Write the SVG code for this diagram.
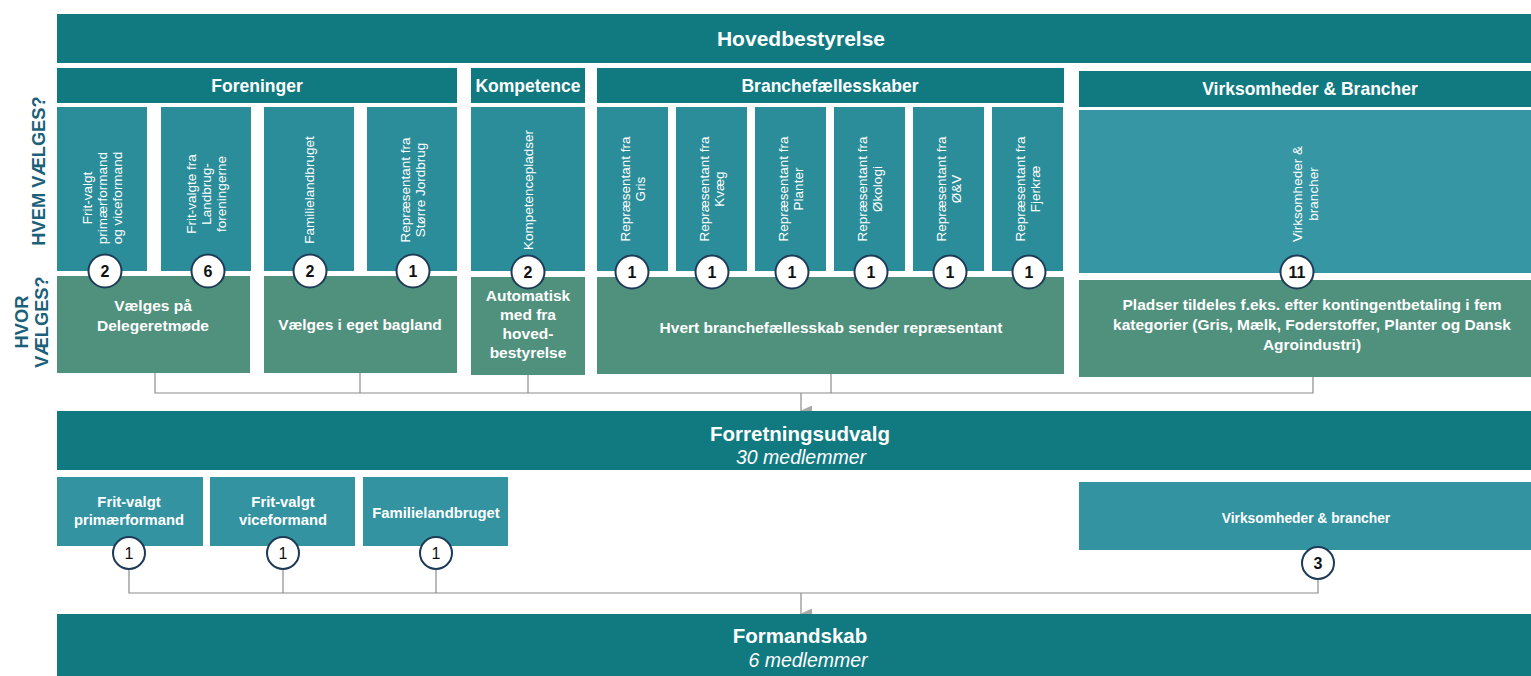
<svg xmlns="http://www.w3.org/2000/svg" width="1531" height="676" viewBox="0 0 1531 676">
<style>
.dark{fill:#117a81}
.col{fill:#2c8d9a}
.colv{fill:#3696a4}
.green{fill:#4f917c}
.small{fill:#3393a1}
text{font-family:"Liberation Sans",Arial,sans-serif;fill:#fff}
.h0{font-size:20.5px;font-weight:bold}
.h2{font-size:17.5px;font-weight:bold}
.it{font-size:19.5px;font-style:italic}
.rot{font-size:13.5px}
.g{font-size:15.5px;font-weight:bold}
.sb{font-size:14.8px;font-weight:bold}
.side{font-size:18.3px;font-weight:bold;fill:#1c6079}
.circ{fill:#fff;stroke:#1d3a57;stroke-width:2}
.num{font-size:16px;font-weight:bold;fill:#111}
.numr{font-size:16px;fill:#111}
.conn{stroke:#8c8c8c;stroke-width:1.2;fill:none}
</style>
<defs>
<marker id="arr" markerWidth="11" markerHeight="12" refX="5.5" refY="11" orient="auto" markerUnits="userSpaceOnUse" viewBox="0 0 11 12">
<path d="M0,0 L11,0 L5.5,12 Z" fill="#a8a8a8"/>
</marker>
</defs>
<rect width="1531" height="676" fill="#ffffff"/>

<g id="side-labels">
<text class="side" text-anchor="middle" transform="translate(45,171) rotate(-90)">HVEM VÆLGES?</text>
<text class="side" text-anchor="middle" transform="translate(28,322) rotate(-90)">HVOR</text>
<text class="side" text-anchor="middle" transform="translate(48,322) rotate(-90)">VÆLGES?</text>
</g>

<g id="connectors">
<polyline class="conn" points="155,373 155,393 1313,393 1313,377"/>
<line class="conn" x1="360" y1="373" x2="360" y2="393"/>
<line class="conn" x1="528" y1="375" x2="528" y2="393"/>
<line class="conn" x1="831" y1="374" x2="831" y2="393"/>
<line class="conn" x1="801" y1="393" x2="801" y2="411" marker-end="url(#arr)"/>
<polyline class="conn" points="129,569 129,593 1318,593 1318,580"/>
<line class="conn" x1="283" y1="569" x2="283" y2="593"/>
<line class="conn" x1="436" y1="569" x2="436" y2="593"/>
<line class="conn" x1="801" y1="593" x2="801" y2="614" marker-end="url(#arr)"/>
</g>

<g id="hovedbestyrelse">
<rect class="dark" x="57" y="14" width="1474" height="49"/>
<text class="h0" x="801" y="46" text-anchor="middle" style="font-size:21px">Hovedbestyrelse</text>
</g>

<g id="hdr-foreninger">
<rect class="dark" x="57" y="68" width="400" height="35"/>
<text class="h2" x="257" y="92" text-anchor="middle">Foreninger</text>
</g>
<g id="hdr-kompetence">
<rect class="dark" x="471" y="68" width="114" height="35"/>
<text class="h2" x="528" y="92" text-anchor="middle">Kompetence</text>
</g>
<g id="hdr-branche">
<rect class="dark" x="597" y="68" width="467" height="35"/>
<text class="h2" x="830" y="92" text-anchor="middle">Branchefællesskaber</text>
</g>
<g id="hdr-virksomheder">
<rect class="dark" x="1079" y="71" width="452" height="36"/>
<text class="h2" x="1310" y="95" text-anchor="middle">Virksomheder &amp; Brancher</text>
</g>

<g id="col-fritvalgt">
<rect class="col" x="57" y="107" width="90" height="164"/>
<text class="rot" text-anchor="middle" transform="translate(102,198) rotate(-90)"><tspan x="0" y="-10">Frit-valgt</tspan><tspan x="0" y="5">primærformand</tspan><tspan x="0" y="20">og viceformand</tspan></text>
</g>
<g id="col-landbrug">
<rect class="col" x="161" y="107" width="90" height="164"/>
<text class="rot" text-anchor="middle" transform="translate(206,194) rotate(-90)"><tspan x="0" y="-10">Frit-valgte fra</tspan><tspan x="0" y="5">Landbrug-</tspan><tspan x="0" y="20">foreningerne</tspan></text>
</g>
<g id="col-familie">
<rect class="col" x="264" y="107" width="90" height="164"/>
<text class="rot" text-anchor="middle" transform="translate(309,190) rotate(-90)"><tspan x="0" y="5">Familielandbruget</tspan></text>
</g>
<g id="col-jordbrug">
<rect class="col" x="367" y="107" width="90" height="164"/>
<text class="rot" text-anchor="middle" transform="translate(412,190) rotate(-90)"><tspan x="0" y="-2">Repræsentant fra</tspan><tspan x="0" y="13">Større Jordbrug</tspan></text>
</g>
<g id="col-kompetence">
<rect class="col" x="471" y="107" width="114" height="164"/>
<text class="rot" text-anchor="middle" transform="translate(528,190) rotate(-90)"><tspan x="0" y="5">Kompetencepladser</tspan></text>
</g>
<g id="col-gris">
<rect class="col" x="597" y="107" width="71" height="164"/>
<text class="rot" text-anchor="middle" transform="translate(632,189) rotate(-90)"><tspan x="0" y="-2">Repræsentant fra</tspan><tspan x="0" y="13">Gris</tspan></text>
</g>
<g id="col-kvaeg">
<rect class="col" x="676" y="107" width="71" height="164"/>
<text class="rot" text-anchor="middle" transform="translate(711,189) rotate(-90)"><tspan x="0" y="-2">Repræsentant fra</tspan><tspan x="0" y="13">Kvæg</tspan></text>
</g>
<g id="col-planter">
<rect class="col" x="755" y="107" width="71" height="164"/>
<text class="rot" text-anchor="middle" transform="translate(790,189) rotate(-90)"><tspan x="0" y="-2">Repræsentant fra</tspan><tspan x="0" y="13">Planter</tspan></text>
</g>
<g id="col-okologi">
<rect class="col" x="834" y="107" width="71" height="164"/>
<text class="rot" text-anchor="middle" transform="translate(869,189) rotate(-90)"><tspan x="0" y="-2">Repræsentant fra</tspan><tspan x="0" y="13">Økologi</tspan></text>
</g>
<g id="col-oev">
<rect class="col" x="913" y="107" width="71" height="164"/>
<text class="rot" text-anchor="middle" transform="translate(948,189) rotate(-90)"><tspan x="0" y="-2">Repræsentant fra</tspan><tspan x="0" y="13">Ø&amp;V</tspan></text>
</g>
<g id="col-fjerkrae">
<rect class="col" x="992" y="107" width="71" height="164"/>
<text class="rot" text-anchor="middle" transform="translate(1027,189) rotate(-90)"><tspan x="0" y="-2">Repræsentant fra</tspan><tspan x="0" y="13">Fjerkræ</tspan></text>
</g>
<g id="col-virksomheder">
<rect class="colv" x="1079" y="110" width="452" height="163"/>
<text class="rot" text-anchor="middle" transform="translate(1305,194) rotate(-90)"><tspan x="0" y="-3">Virksomheder &amp;</tspan><tspan x="0" y="13">brancher</tspan></text>
</g>

<g id="green-delegeret">
<rect class="green" x="57" y="276" width="193" height="97"/>
<text class="g" x="153" y="311" text-anchor="middle">Vælges på</text>
<text class="g" x="153" y="331" text-anchor="middle">Delegeretmøde</text>
</g>
<g id="green-bagland">
<rect class="green" x="264" y="276" width="193" height="97"/>
<text class="g" x="360" y="330" text-anchor="middle">Vælges i eget bagland</text>
</g>
<g id="green-automatisk">
<rect class="green" x="471" y="277" width="114" height="98"/>
<text class="g" x="528" y="301" text-anchor="middle">Automatisk</text>
<text class="g" x="528" y="320" text-anchor="middle">med fra</text>
<text class="g" x="528" y="339" text-anchor="middle">hoved-</text>
<text class="g" x="528" y="358" text-anchor="middle">bestyrelse</text>
</g>
<g id="green-branche">
<rect class="green" x="597" y="277" width="467" height="97"/>
<text class="g" x="831" y="333" text-anchor="middle">Hvert branchefællesskab sender repræsentant</text>
</g>
<g id="green-pladser">
<rect class="green" x="1079" y="280" width="452" height="97"/>
<text class="g" x="1312" y="310" text-anchor="middle">Pladser tildeles f.eks. efter kontingentbetaling i fem</text>
<text class="g" x="1312" y="330" text-anchor="middle">kategorier (Gris, Mælk, Foderstoffer, Planter og Dansk</text>
<text class="g" x="1312" y="350" text-anchor="middle">Agroindustri)</text>
</g>

<g id="counts-top">
<circle class="circ" cx="105" cy="271" r="16.5"/><text class="num" x="105" y="277" text-anchor="middle">2</text>
<circle class="circ" cx="208" cy="271" r="16.5"/><text class="num" x="208" y="277" text-anchor="middle">6</text>
<circle class="circ" cx="310" cy="271" r="16.5"/><text class="num" x="310" y="277" text-anchor="middle">2</text>
<circle class="circ" cx="413" cy="271" r="16.5"/><text class="num" x="413" y="277" text-anchor="middle">1</text>
<circle class="circ" cx="528" cy="272" r="16.5"/><text class="num" x="528" y="278" text-anchor="middle">2</text>
<circle class="circ" cx="632" cy="272" r="16.5"/><text class="num" x="632" y="278" text-anchor="middle">1</text>
<circle class="circ" cx="712" cy="272" r="16.5"/><text class="num" x="712" y="278" text-anchor="middle">1</text>
<circle class="circ" cx="792" cy="272" r="16.5"/><text class="num" x="792" y="278" text-anchor="middle">1</text>
<circle class="circ" cx="871" cy="272" r="16.5"/><text class="num" x="871" y="278" text-anchor="middle">1</text>
<circle class="circ" cx="950" cy="272" r="16.5"/><text class="num" x="950" y="278" text-anchor="middle">1</text>
<circle class="circ" cx="1029" cy="272" r="16.5"/><text class="num" x="1029" y="278" text-anchor="middle">1</text>
<circle class="circ" cx="1297" cy="272" r="16.5"/><text class="num" x="1297" y="278" text-anchor="middle">11</text>
</g>

<g id="forretningsudvalg">
<rect class="dark" x="57" y="411" width="1474" height="59"/>
<text class="h0" x="800" y="441" text-anchor="middle">Forretningsudvalg</text>
<text class="it" x="801" y="464" text-anchor="middle">30 medlemmer</text>
</g>

<g id="fu-primaer">
<rect class="small" x="57" y="477" width="146" height="69"/>
<text class="sb" x="129" y="507" text-anchor="middle">Frit-valgt</text>
<text class="sb" x="129" y="525" text-anchor="middle">primærformand</text>
</g>
<g id="fu-vice">
<rect class="small" x="210" y="477" width="145" height="69"/>
<text class="sb" x="283" y="507" text-anchor="middle">Frit-valgt</text>
<text class="sb" x="283" y="525" text-anchor="middle">viceformand</text>
</g>
<g id="fu-familie">
<rect class="small" x="363" y="477" width="145" height="69"/>
<text class="sb" x="436" y="518" text-anchor="middle">Familielandbruget</text>
</g>
<g id="fu-virksomheder">
<rect class="small" x="1079" y="482" width="452" height="68"/>
<text class="sb" x="1306" y="523" text-anchor="middle" style="font-size:13.8px">Virksomheder &amp; brancher</text>
</g>

<g id="counts-bottom">
<circle class="circ" cx="129" cy="553" r="16"/><text class="numr" x="129" y="559" text-anchor="middle">1</text>
<circle class="circ" cx="283" cy="553" r="16"/><text class="numr" x="283" y="559" text-anchor="middle">1</text>
<circle class="circ" cx="436" cy="553" r="16"/><text class="numr" x="436" y="559" text-anchor="middle">1</text>
<circle class="circ" cx="1318" cy="563" r="16"/><text class="num" x="1318" y="569" text-anchor="middle">3</text>
</g>

<g id="formandskab">
<rect class="dark" x="57" y="614" width="1474" height="62"/>
<text class="h0" x="800" y="643" text-anchor="middle">Formandskab</text>
<text class="it" x="808" y="667" text-anchor="middle">6 medlemmer</text>
</g>
</svg>
